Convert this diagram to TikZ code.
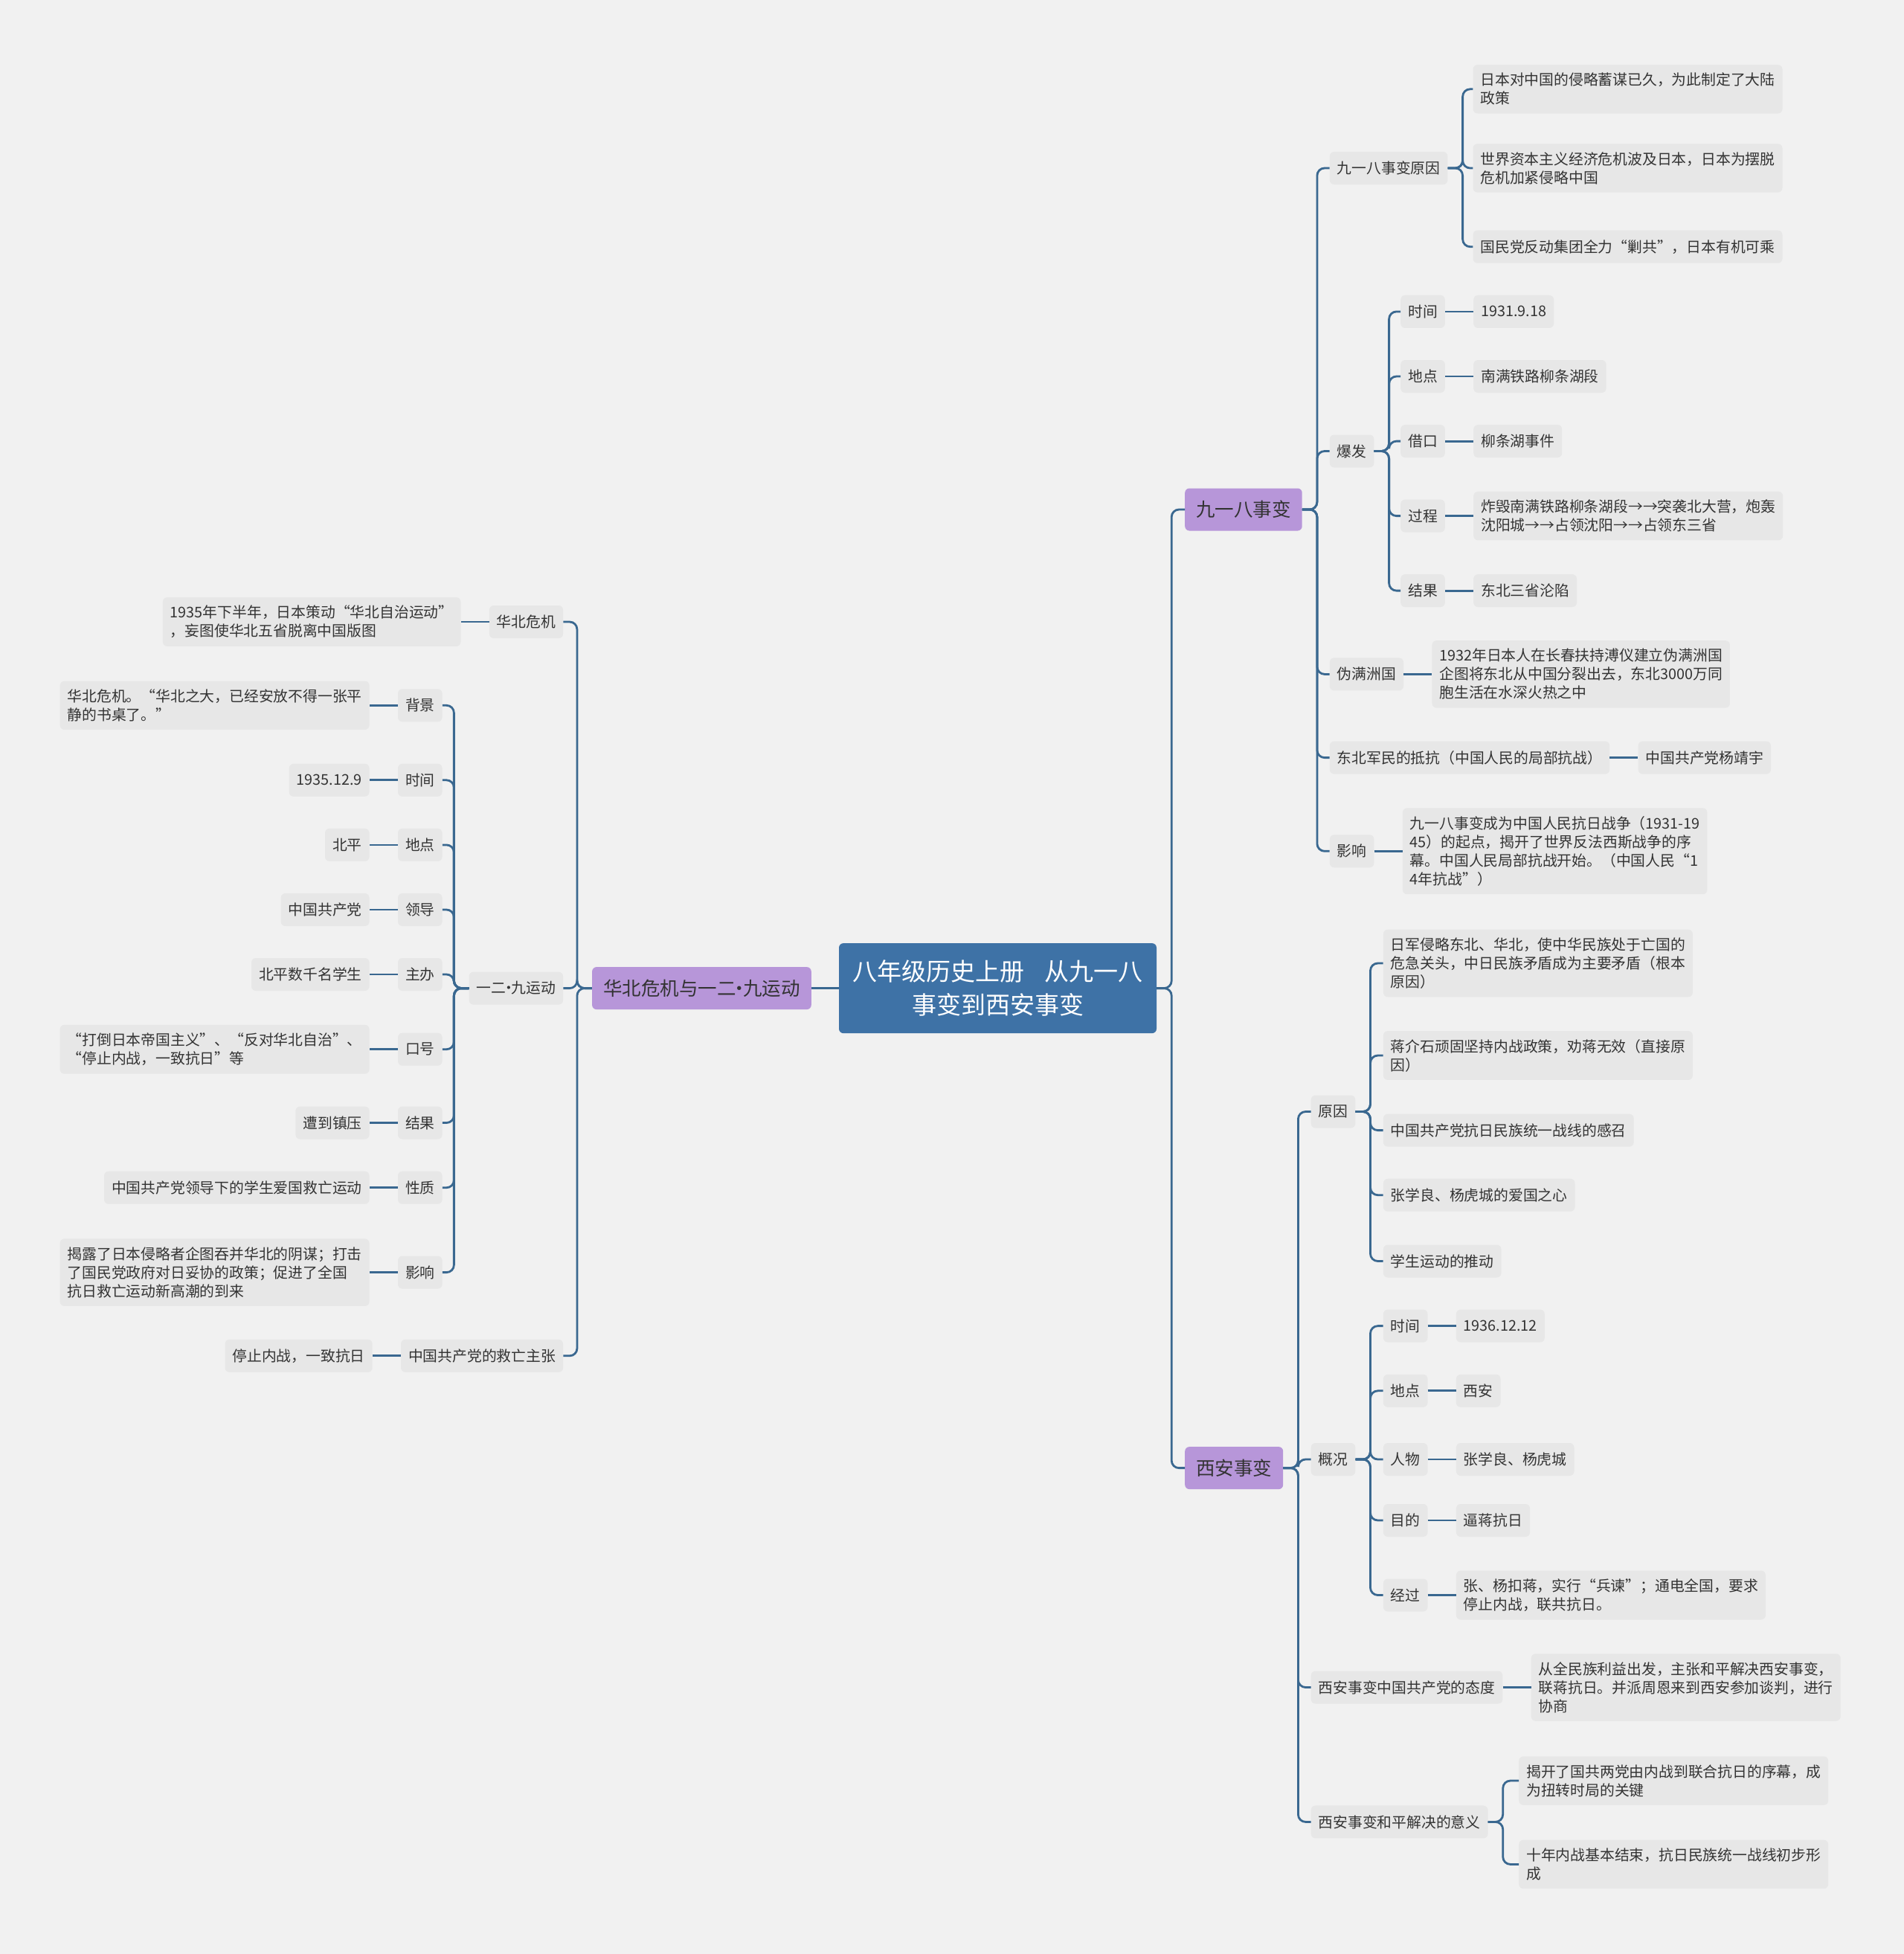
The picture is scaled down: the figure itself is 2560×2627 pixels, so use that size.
\documentclass[tikz,border=0pt]{standalone}
\usepackage{fontspec}
\setmainfont{Noto Sans CJK SC}
\usepackage{xcolor}
\usepackage{tikz}
\usetikzlibrary{positioning}
\definecolor{mapbg}{HTML}{F1F1F1}
\definecolor{mapbox}{HTML}{E7E7E7}
\definecolor{mapline}{HTML}{3A6890}
\definecolor{maproot}{HTML}{3E72A6}
\definecolor{mapmain}{HTML}{B796D9}
\definecolor{maptext}{HTML}{333333}
\tikzset{
    rootbox/.style={fill=maproot, text=white, rounded corners=6pt, align=center,
        minimum width=427pt, minimum height=121pt, font=\fontsize{33}{45}\selectfont},
    mainbox/.style={fill=mapmain, text=maptext, rounded corners=6pt, inner xsep=15pt,
        minimum height=57pt, font=\fontsize{25.5}{30}\selectfont},
    subbox/.style={fill=mapbox, text=maptext, rounded corners=6pt, inner xsep=10pt,
        inner ysep=11pt, minimum height=44pt, align=left, font=\fontsize{19.8}{25}\selectfont},
    link/.style={draw=mapline, line width=2.8pt, rounded corners=10pt}
}
\newcommand{\branchto}[2]{\draw[link] (#1.east) -- ++(20,0) |- (#2.west);}
\newcommand{\branchback}[2]{\draw[link] (#1.west) -- ++(-20,0) |- (#2.east);}
\newcommand{\middot}{\makebox[0.38em]{•}}

\begin{document}
\begin{tikzpicture}[x=1pt,y=-1pt,node distance=38pt]
    \fill[mapbg] (0,0) rectangle (2560,2627);
    \useasboundingbox (0,0) rectangle (2560,2627);

    \node[rootbox] (course) at (1341.5,1328.6) {八年级历史上册\hspace{0.8em}从九一八\\事变到西安事变};
    \node[mainbox, anchor=west] (jyb) at (1593,685) {九一八事变};
    \node[mainbox, anchor=west] (xian) at (1593,1973.6) {西安事变};
    \node[mainbox, anchor=east] (huabei) at (1091,1328.6) {华北危机与一二\middot 九运动};

    % 九一八事变
    \node[subbox, anchor=west] (jybcause) at (1787.6,226) {九一八事变原因};
    \node[subbox, anchor=west] (jybstart) at (1787.6,606.5) {爆发};
    \node[subbox, anchor=west] (jybpuppet) at (1787.6,906.4) {伪满洲国};
    \node[subbox, anchor=west] (jybresist) at (1787.6,1018.6) {东北军民的抵抗（中国人民的局部抗战）};
    \node[subbox, anchor=west] (jybeffect) at (1787.6,1144.3) {影响};

    \node[subbox, anchor=west] (jybcausea) at (1980.3,119.8) {日本对中国的侵略蓄谋已久，为此制定了大陆\\政策};
    \node[subbox, anchor=west] (jybcauseb) at (1980.3,226) {世界资本主义经济危机波及日本，日本为摆脱\\危机加紧侵略中国};
    \node[subbox, anchor=west] (jybcausec) at (1980.3,331.7) {国民党反动集团全力“剿共”，日本有机可乘};

    \node[subbox, anchor=west] (jybtime) at (1883,418.9) {时间};
    \node[subbox, anchor=west] (jybplace) at (1883,506) {地点};
    \node[subbox, anchor=west] (jybexcuse) at (1883,593.1) {借口};
    \node[subbox, anchor=west] (jybcourse) at (1883,693.6) {过程};
    \node[subbox, anchor=west] (jybresult) at (1883,794.1) {结果};
    \node[subbox, right=of jybtime] (jybtimev) {1931.9.18};
    \node[subbox, right=of jybplace] (jybplacev) {南满铁路柳条湖段};
    \node[subbox, right=of jybexcuse] (jybexcusev) {柳条湖事件};
    \node[subbox, right=of jybcourse] (jybcoursev) {炸毁南满铁路柳条湖段→→突袭北大营，炮轰\\沈阳城→→占领沈阳→→占领东三省};
    \node[subbox, right=of jybresult] (jybresultv) {东北三省沦陷};

    \node[subbox, right=of jybpuppet] (jybpuppetv) {1932年日本人在长春扶持溥仪建立伪满洲国\\企图将东北从中国分裂出去，东北3000万同\\胞生活在水深火热之中};
    \node[subbox, right=of jybresist] (jybresistv) {中国共产党杨靖宇};
    \node[subbox, right=of jybeffect] (jybeffectv) {九一八事变成为中国人民抗日战争（1931-19\\45）的起点，揭开了世界反法西斯战争的序\\幕。中国人民局部抗战开始。（中国人民“1\\4年抗战”）};

    % 西安事变
    \node[subbox, anchor=west] (xiancause) at (1762.5,1494.5) {原因};
    \node[subbox, anchor=west] (xianinfo) at (1762.5,1962) {概况};
    \node[subbox, anchor=west] (xiancpc) at (1762.5,2268.5) {西安事变中国共产党的态度};
    \node[subbox, anchor=west] (xianmeaning) at (1762.5,2449.4) {西安事变和平解决的意义};

    \node[subbox, anchor=west] (xiancausea) at (1859.7,1295) {日军侵略东北、华北，使中华民族处于亡国的\\危急关头，中日民族矛盾成为主要矛盾（根本\\原因）};
    \node[subbox, anchor=west] (xiancauseb) at (1859.7,1419) {蒋介石顽固坚持内战政策，劝蒋无效（直接原\\因）};
    \node[subbox, anchor=west] (xiancausec) at (1859.7,1519.6) {中国共产党抗日民族统一战线的感召};
    \node[subbox, anchor=west] (xiancaused) at (1859.7,1606.7) {张学良、杨虎城的爱国之心};
    \node[subbox, anchor=west] (xiancausee) at (1859.7,1695.5) {学生运动的推动};

    \node[subbox, anchor=west] (xiantime) at (1859.7,1782.6) {时间};
    \node[subbox, anchor=west] (xianplace) at (1859.7,1869.8) {地点};
    \node[subbox, anchor=west] (xianpeople) at (1859.7,1962) {人物};
    \node[subbox, anchor=west] (xianaim) at (1859.7,2044) {目的};
    \node[subbox, anchor=west] (xiancourse) at (1859.7,2144.5) {经过};
    \node[subbox, right=of xiantime] (xiantimev) {1936.12.12};
    \node[subbox, right=of xianplace] (xianplacev) {西安};
    \node[subbox, right=of xianpeople] (xianpeoplev) {张学良、杨虎城};
    \node[subbox, right=of xianaim] (xianaimv) {逼蒋抗日};
    \node[subbox, right=of xiancourse] (xiancoursev) {张、杨扣蒋，实行“兵谏”；通电全国，要求\\停止内战，联共抗日。};

    \node[subbox, right=of xiancpc] (xiancpcv) {从全民族利益出发，主张和平解决西安事变，\\联蒋抗日。并派周恩来到西安参加谈判，进行\\协商};
    \node[subbox, anchor=west] (xianmeaninga) at (2042,2394) {揭开了国共两党由内战到联合抗日的序幕，成\\为扭转时局的关键};
    \node[subbox, anchor=west] (xianmeaningb) at (2042,2506.4) {十年内战基本结束，抗日民族统一战线初步形\\成};

    % 华北危机与一二九运动
    \node[subbox, anchor=east] (hbcrisis) at (757.3,836) {华北危机};
    \node[subbox, anchor=east] (hbmove) at (757.3,1328.6) {一二\middot 九运动};
    \node[subbox, anchor=east] (hbcpc) at (757.3,1822.8) {中国共产党的救亡主张};
    \node[subbox, left=of hbcrisis] (hbcrisisv) {1935年下半年，日本策动“华北自治运动”\\，妄图使华北五省脱离中国版图};
    \node[subbox, left=of hbcpc] (hbcpcv) {停止内战，一致抗日};

    \node[subbox, anchor=east] (hbback) at (594.8,948.3) {背景};
    \node[subbox, anchor=east] (hbtime) at (594.8,1048.8) {时间};
    \node[subbox, anchor=east] (hbplace) at (594.8,1135.9) {地点};
    \node[subbox, anchor=east] (hblead) at (594.8,1223) {领导};
    \node[subbox, anchor=east] (hbhost) at (594.8,1310) {主办};
    \node[subbox, anchor=east] (hbslogan) at (594.8,1410.7) {口号};
    \node[subbox, anchor=east] (hbresult) at (594.8,1509.5) {结果};
    \node[subbox, anchor=east] (hbnature) at (594.8,1596.7) {性质};
    \node[subbox, anchor=east] (hbeffect) at (594.8,1710.6) {影响};
    \node[subbox, left=of hbback] (hbbackv) {华北危机。“华北之大，已经安放不得一张平\\静的书桌了。”};
    \node[subbox, left=of hbtime] (hbtimev) {1935.12.9};
    \node[subbox, left=of hbplace] (hbplacev) {北平};
    \node[subbox, left=of hblead] (hbleadv) {中国共产党};
    \node[subbox, left=of hbhost] (hbhostv) {北平数千名学生};
    \node[subbox, left=of hbslogan] (hbsloganv) {“打倒日本帝国主义”、“反对华北自治”、\\“停止内战，一致抗日”等};
    \node[subbox, left=of hbresult] (hbresultv) {遭到镇压};
    \node[subbox, left=of hbnature] (hbnaturev) {中国共产党领导下的学生爱国救亡运动};
    \node[subbox, left=of hbeffect] (hbeffectv) {揭露了日本侵略者企图吞并华北的阴谋；打击\\了国民党政府对日妥协的政策；促进了全国\\抗日救亡运动新高潮的到来};

    % connectors
    \branchto{course}{jyb}
    \branchto{course}{xian}
    \draw[link] (course.west) -- (huabei.east);

    \foreach \c in {jybcause,jybstart,jybpuppet,jybresist,jybeffect}
        {\branchto{jyb}{\c}}
    \foreach \c in {jybcausea,jybcauseb,jybcausec}
        {\branchto{jybcause}{\c}}
    \foreach \c in {jybtime,jybplace,jybexcuse,jybcourse,jybresult}
        {\branchto{jybstart}{\c}
         \draw[link] (\c.east) -- (\c v.west);}
    \foreach \c in {jybpuppet,jybresist,jybeffect}
        {\draw[link] (\c.east) -- (\c v.west);}

    \foreach \c in {xiancause,xianinfo,xiancpc,xianmeaning}
        {\branchto{xian}{\c}}
    \foreach \c in {xiancausea,xiancauseb,xiancausec,xiancaused,xiancausee}
        {\branchto{xiancause}{\c}}
    \foreach \c in {xiantime,xianplace,xianpeople,xianaim,xiancourse}
        {\branchto{xianinfo}{\c}
         \draw[link] (\c.east) -- (\c v.west);}
    \draw[link] (xiancpc.east) -- (xiancpcv.west);
    \branchto{xianmeaning}{xianmeaninga}
    \branchto{xianmeaning}{xianmeaningb}

    \foreach \c in {hbcrisis,hbmove,hbcpc}
        {\branchback{huabei}{\c}}
    \draw[link] (hbcrisis.west) -- (hbcrisisv.east);
    \draw[link] (hbcpc.west) -- (hbcpcv.east);
    \foreach \c in {hbback,hbtime,hbplace,hblead,hbhost,hbslogan,hbresult,hbnature,hbeffect}
        {\branchback{hbmove}{\c}
         \draw[link] (\c.west) -- (\c v.east);}
\end{tikzpicture}
\end{document}
